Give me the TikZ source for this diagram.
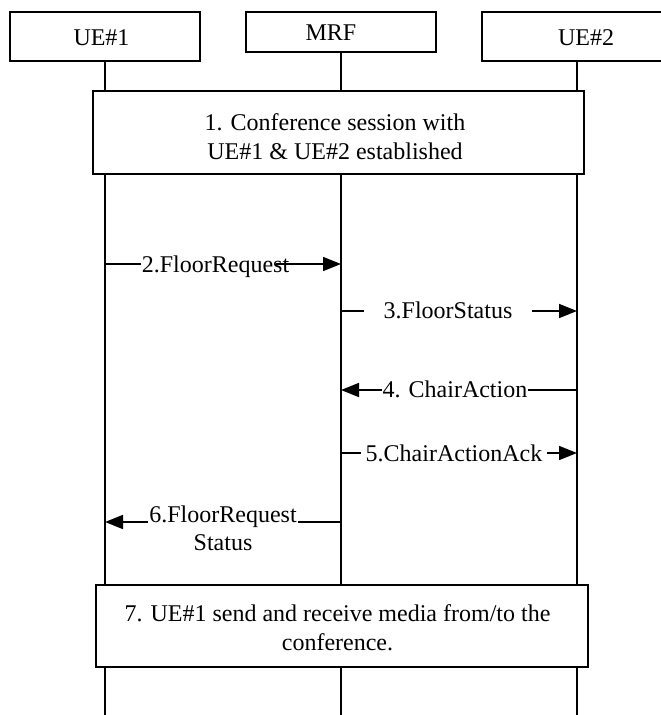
\documentclass[tikz,border=0pt]{standalone}
\usepackage{fontspec}
\setmainfont{Liberation Serif}
\usetikzlibrary{arrows.meta}
\begin{document}
\begin{tikzpicture}[x=1pt,y=-1pt,
  every node/.style={font=\fontsize{24}{29}\selectfont},
  head/.style={draw, fill=white, line width=1.5pt, minimum width=190pt, inner sep=0pt},
  stepbox/.style={draw, fill=white, line width=1.5pt, inner sep=0pt},
  txt/.style={inner sep=0pt},
  lbl/.style={fill=white, inner ysep=0pt, inner xsep=1pt},
  life/.style={line width=1.6pt},
  msg/.style={line width=1.6pt, -{Triangle[length=18pt,width=14pt]}}]
\clip (0,0) rectangle (661,715);
\fill[white] (0,0) rectangle (661,715);
% heads
\node[head, minimum height=49pt] (ue1) at (105,36.5) {};
\node[head, minimum height=40pt] (mrf) at (341,32) {};
\node[head, minimum height=49pt] (ue2) at (577,36.5) {};
\node[txt] (ue1t) at (101.5,37.5) {UE\#1};
\node[txt] (mrft) at (331,32.5) {MRF};
\node[txt] (ue2t) at (586,37.5) {UE\#2};
% lifelines
\coordinate (ue1end) at (105,720);
\coordinate (mrfend) at (341,720);
\coordinate (ue2end) at (577,720);
\draw[life] (ue1.south) -- (ue1end);
\draw[life] (mrf.south) -- (mrfend);
\draw[life] (ue2.south) -- (ue2end);
% step 1
\node[stepbox, minimum width=491pt, minimum height=83pt] (s1) at (338.5,132.5) {};
\node[txt, align=center] (s1t) at (335,137) {1. Conference session with\\UE\#1 \& UE\#2 established};
% message 2
\coordinate (m2a) at (ue1.south |- 0,264);
\coordinate (m2b) at (mrf.south |- 0,264);
\draw[msg] (m2a) -- (m2b);
\node[lbl, anchor=base] (l2) at (215.5,272) {2.FloorRequest};
\draw[life] (l2.east |- m2a) -- ++(-14,0);
% message 3
\coordinate (m3a) at (mrf.south |- 0,311);
\coordinate (m3b) at (ue2.south |- 0,311);
\draw[msg] (m3a) -- (m3b);
\node[lbl, anchor=base, inner xsep=20pt] (l3) at (448,318) {3.FloorStatus};
% message 4
\coordinate (m4a) at (ue2.south |- 0,390);
\coordinate (m4b) at (mrf.south |- 0,390);
\draw[msg] (m4a) -- (m4b);
\node[lbl, anchor=base] (l4) at (455,397) {4. ChairAction};
% message 5
\coordinate (m5a) at (mrf.south |- 0,453);
\coordinate (m5b) at (ue2.south |- 0,453);
\draw[msg] (m5a) -- (m5b);
\node[lbl, anchor=base, inner xsep=5pt] (l5) at (454,461) {5.ChairActionAck};
% message 6
\coordinate (m6a) at (mrf.south |- 0,522);
\coordinate (m6b) at (ue1.south |- 0,522);
\draw[msg] (m6a) -- (m6b);
\node[lbl, anchor=north, align=center, font=\fontsize{24}{28}\selectfont] (l6) at (223,505.6) {6.FloorRequest\\Status};
% step 7
\node[stepbox, minimum width=492pt, minimum height=82pt] (s7) at (342,626) {};
\node[txt, align=center] (s7t) at (337.5,628) {7. UE\#1 send and receive media from/to the\\conference.};
\end{tikzpicture}
\end{document}
